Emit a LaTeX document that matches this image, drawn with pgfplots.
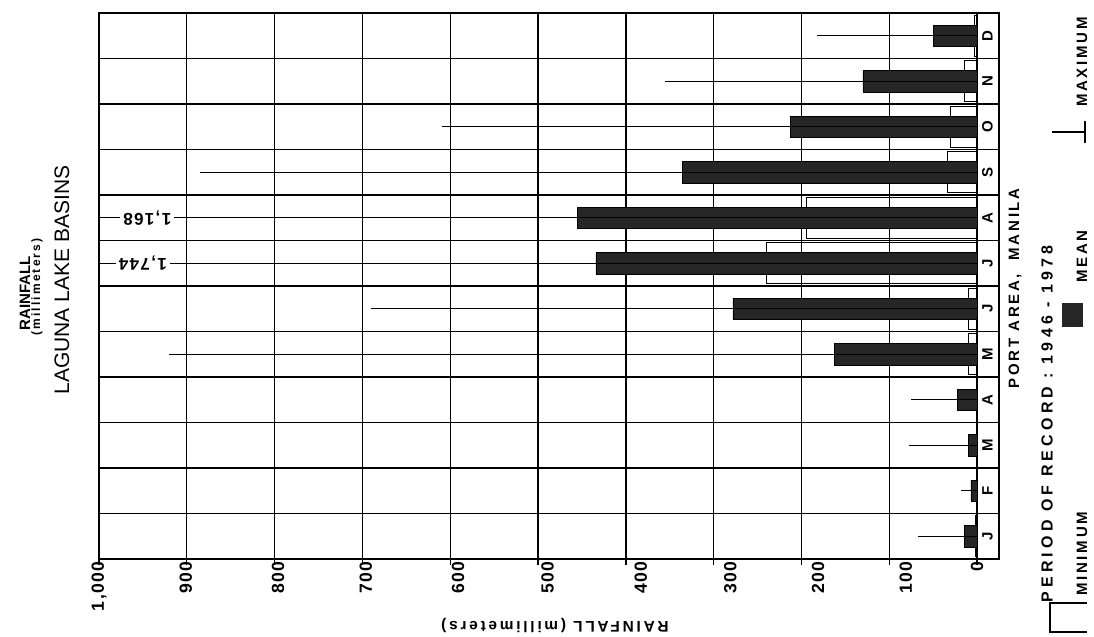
\documentclass[border=0pt]{standalone}
\usepackage{fontspec}
\setmainfont{Liberation Sans}
\newfontfamily\lsb[LetterSpace=18]{Liberation Sans}
\newfontfamily\lsd[LetterSpace=26]{Liberation Sans}
\newfontfamily\lsc[LetterSpace=8]{Liberation Sans}
\usepackage{pgfplots}
\pgfplotsset{compat=1.18}
\begin{document}
\begin{tikzpicture}
\path[use as bounding box] (0,0) rectangle (547pt,-318.5pt);
\begin{axis}[
  at={(49.5pt,-279.5pt)}, anchor=south west,
  scale only axis, width=450pt, height=273pt,
  xmin=-25, xmax=1000, x dir=reverse,
  ymin=0.5, ymax=12.5,
  xtick={0,100,...,1000}, xticklabels={},
  extra x ticks={0,81,181,281,383,489,591,696,796,901,1000},
  extra x tick labels={0,100,200,300,400,500,600,700,800,900,{1,000}},
  extra x tick style={grid=none, major tick length=0pt},
  ytick={1.5,2.5,...,11.5}, yticklabels={},
  xmajorgrids, ymajorgrids,
  major grid style={black, line width=0.7pt},
  tick pos=left, xtick align=outside, ytick align=inside,
  major tick length=3pt,
  tick style={black, line width=0.7pt},
  axis line style={black, line width=1pt},
  /pgf/number format/assume math mode=true,
  xticklabel style={rotate=90, anchor=east, inner sep=1pt, font=\fontsize{8.8}{10}\lsc\bfseries},
  clip=true,
]
% minimum (open boxes)
\addplot[xbar, bar shift=0pt, bar width=0.9, draw=black, fill=none, line width=0.6pt]
  coordinates {(2,1) (0,2) (0,3) (1,4) (10,5) (10,6) (240,7) (194,8) (34,9) (30,10) (14,11) (3,12)};
% mean
\addplot[xbar, bar shift=0pt, bar width=0.47, draw=black, fill=black!85, line width=0.3pt]
  coordinates {(14,1) (7,2) (10,3) (22,4) (162,5) (278,6) (434,7) (455,8) (336,9) (213,10) (130,11) (50,12)};
% maximum
\addplot[xcomb, black, line width=0.6pt, mark=none]
  coordinates {(67,1) (18,2) (77,3) (75,4) (920,5) (690,6) (1744,7) (1168,8) (885,9) (609,10) (355,11) (182,12)};
% off-scale values
\node[rotate=180, fill=white, inner sep=1.5pt, font=\fontsize{8.5}{10}\lsc\bfseries] at (axis cs:950,7) {1,744};
\node[rotate=180, fill=white, inner sep=1.5pt, font=\fontsize{8.5}{10}\lsc\bfseries] at (axis cs:945,8) {1,168};
% month letters
\begin{scope}[every node/.style={rotate=90, font=\fontsize{7.5}{9}\bfseries}]
\node at (axis cs:-12,1) {J};
\node at (axis cs:-12,2) {F};
\node at (axis cs:-12,3) {M};
\node at (axis cs:-12,4) {A};
\node at (axis cs:-12,5) {M};
\node at (axis cs:-12,6) {J};
\node at (axis cs:-12,7) {J};
\node at (axis cs:-12,8) {A};
\node at (axis cs:-12,9) {S};
\node at (axis cs:-12,10) {O};
\node at (axis cs:-12,11) {N};
\node at (axis cs:-12,12) {D};
\end{scope}
\end{axis}
% left titles
\node[rotate=90, inner sep=0pt, font=\fontsize{7.5}{9}\bfseries] at (12.5pt,-146.5pt) {RAINFALL};
\node[rotate=90, inner sep=0pt, font=\fontsize{6}{7}\lsb\bfseries] at (18.5pt,-143.5pt) {(millimeters)};
\node[rotate=90, inner sep=0pt, font=\fontsize{10.5}{12}\selectfont] at (31pt,-140pt) {LAGUNA LAKE BASINS};
% bottom axis label (upside down)
\node[rotate=180, inner sep=0pt, font=\fontsize{7.7}{9}\lsb\bfseries] at (277.5pt,-312.5pt) {RAINFALL (millimeters)};
% right texts
\node[rotate=90, anchor=east, inner sep=0pt, font=\fontsize{7.5}{9}\lsb\bfseries] at (507.5pt,-94pt) {PORT AREA,\ \ MANILA};
\node[rotate=90, anchor=east, inner sep=0pt, font=\fontsize{8}{9}\lsd\bfseries] at (523.5pt,-122.5pt) {PERIOD OF RECORD : 1946 - 1978};
\node[rotate=90, anchor=east, inner sep=0pt, font=\fontsize{7.5}{9}\lsb\bfseries] at (541pt,-8.5pt) {MAXIMUM};
\node[rotate=90, anchor=east, inner sep=0pt, font=\fontsize{7.5}{9}\lsb\bfseries] at (541pt,-115pt) {MEAN};
\node[rotate=90, anchor=west, inner sep=0pt, font=\fontsize{7.5}{9}\lsb\bfseries] at (541pt,-298pt) {MINIMUM};
% legend symbols
\fill[black!85] (531pt,-151.5pt) rectangle (541.5pt,-163.5pt);
\draw[line width=0.8pt] (543.5pt,-301.5pt) -- (525pt,-301.5pt) -- (525pt,-316pt) -- (543.5pt,-316pt);
\draw[line width=0.8pt] (526pt,-66pt) -- (542.5pt,-66pt);
\draw[line width=0.8pt] (542.5pt,-60.5pt) -- (542.5pt,-71.5pt);
\end{tikzpicture}
\end{document}
